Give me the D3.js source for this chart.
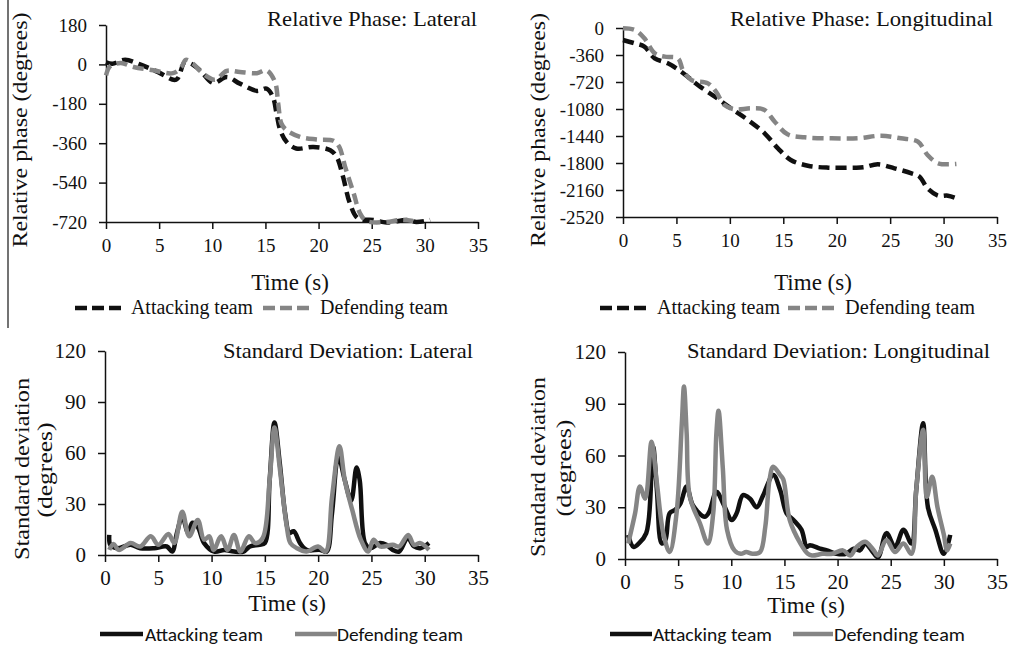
<!DOCTYPE html>
<html>
<head>
<meta charset="utf-8">
<script src="https://d3js.org/d3.v7.min.js"></script>
<style>
  body { margin: 0; background: #fff; }
  svg text { fill: #111; }
  .axis path, .axis line { stroke: #111; stroke-width: 1.5; }
  .axis.top text { font-size: 19px; }
  .axis.bottom text { font-size: 21px; }
</style>
</head>
<body>
<svg width="1015" height="645"></svg>
<script>
// time ticks shared by all four panels
const xTicks = [0, 5, 10, 15, 20, 25, 30, 35];
const latPhaseTicks = [-720, -540, -360, -180, 0, 180];
const lonPhaseTicks = [-2520, -2160, -1800, -1440, -1080, -720, -360, 0];
const sdTicks = [0, 30, 60, 90, 120];

// [time (s), degrees]
const latPhaseAtk = [[0,10],[0.6,3],[1.8,21],[3.2,0],[4.9,-35],[6.6,-70],[7.4,10],[8.0,3],[8.85,-27],[10.1,-85],
  [11.35,-58],[12.6,-88],[14.2,-121],[15.1,-111],[15.7,-149],[16.05,-225],[16.4,-301],[17.0,-354],[17.9,-384],
  [19.5,-377],[21.1,-392],[21.7,-422],[22.3,-513],[22.95,-635],[23.7,-703],[25.15,-711],[26.4,-722],[28.3,-711],
  [29.2,-720],[30.5,-711]];
const latPhaseDef = [[0,-50],[0.4,-8],[1.4,6],[2.6,-12],[4.45,-27],[6.3,-40],[7.1,-12],[7.5,21],[8.2,3],[9.15,-43],
  [10.25,-70],[11.35,-30],[12.6,-35],[14.2,-40],[15.1,-27],[15.9,-80],[16.2,-179],[16.5,-270],[17.0,-301],
  [18.25,-331],[19.8,-343],[21.4,-349],[21.95,-377],[22.5,-468],[23.3,-589],[23.9,-680],[24.5,-715],[26.4,-720],
  [27.65,-711],[28.9,-715]];

const lonPhaseAtk = [[0,-160],[1.1,-204],[2.0,-249],[2.97,-404],[4.2,-471],[5.45,-582],[7.0,-760],[8.6,-916],
  [10.1,-1071],[11.7,-1227],[13.25,-1404],[14.5,-1604],[15.7,-1760],[17.3,-1836],[19.2,-1862],[21.4,-1862],
  [22.5,-1858],[23.85,-1818],[25.4,-1871],[27.0,-1938],[27.75,-1982],[28.5,-2138],[29.5,-2236],[30.4,-2236],
  [31.2,-2271]];
const lonPhaseDef = [[0,-4],[1.1,-27],[2.0,-138],[2.97,-338],[3.9,-382],[5.15,-404],[5.6,-560],[6.4,-693],
  [7.95,-738],[8.7,-849],[9.5,-1027],[10.45,-1084],[12.0,-1071],[13.25,-1093],[14.2,-1249],[15.4,-1418],
  [17.0,-1458],[19.5,-1471],[22.0,-1471],[24.15,-1436],[26.0,-1471],[27.6,-1516],[28.5,-1693],[29.5,-1804],
  [31.2,-1813]];

const latSdAtk = [[0.4,11.8],[0.5,6],[1.1,4],[2.4,6],[3.3,4],[4.6,4],[5.8,5],[6.3,2],[6.75,13],[7.25,22.5],
  [7.8,13],[8.2,19],[8.7,16.6],[9.3,7],[10.25,2],[11.2,3],[12.1,2],[13.0,2],[13.6,5],[14.5,6],[15.0,7],
  [15.45,44],[15.9,78],[16.4,54],[16.9,24.5],[17.3,13],[17.7,14],[18.3,7],[18.9,3],[20.2,3],[20.8,2],
  [21.3,24.5],[21.9,58],[22.5,44],[23.1,32],[23.6,51.5],[23.9,44],[24.4,7],[24.9,4],[25.8,7],[26.4,6],
  [27.0,3],[27.6,2],[28.4,10],[29.0,5],[29.6,4],[30.4,7]];
const latSdDef = [[0.4,3],[0.8,6.5],[1.3,3],[2.4,7],[3.3,5],[4.3,11],[5.0,6],[5.95,12.4],[6.5,7],[7.25,25.5],
  [7.9,11],[8.7,20.6],[9.3,9],[9.8,11],[10.2,3],[10.9,11],[11.5,3],[12.1,11.8],[12.7,2],[13.5,11],[14.1,7],
  [14.8,10],[15.45,44],[15.9,75],[16.4,51],[17.05,17],[17.4,7],[18.0,4],[18.9,2],[20.0,5],[20.7,2],[21.3,34],
  [22.0,64],[22.5,44],[23.2,26.5],[24.0,9],[24.7,2],[25.2,9],[25.8,5],[27.0,6],[27.6,5],[28.45,11.8],
  [29.0,6],[29.6,7],[30.4,3]];

const lonSdAtk = [[0.3,14],[0.8,7],[1.3,9],[2.0,15],[2.5,50],[2.66,65],[3.0,40],[3.45,9],[3.8,11],[4.2,26.5],
  [4.7,28.4],[5.2,32],[5.8,42],[6.4,31],[7.5,24.5],[7.9,27],[8.6,39],[9.25,32],[10.05,22.6],[10.5,26.5],
  [11.1,37],[11.75,35],[12.4,30],[13.0,37],[13.95,48.7],[14.6,40],[15.2,26.5],[15.85,22.6],[16.6,17],
  [17.1,7],[17.4,8],[18.35,6],[19.0,5],[19.9,3],[20.8,3],[21.5,6],[22.1,5],[22.6,9],[23.2,5],[23.8,1],
  [24.6,15],[25.4,7],[26.2,17],[26.95,9],[27.4,40],[28.05,78.7],[28.5,30],[29.2,17],[30.0,3],[30.6,14]];
const lonSdDef = [[0.3,9],[0.95,26.5],[1.4,42],[1.9,35],[2.5,68],[3.0,44],[3.6,15],[4.2,4],[4.85,26.5],
  [5.35,79],[5.55,100],[5.8,73],[6.1,36],[7.05,20.7],[7.8,9],[8.3,26.5],[8.6,73],[8.8,86],[9.2,53],[9.6,17],
  [10.3,5],[10.9,3],[11.4,4],[12.0,3],[12.7,4],[13.2,18.7],[13.6,46],[13.95,53.5],[14.6,48.7],[14.9,46],
  [15.5,22.6],[16.5,9],[17.2,3],[17.6,2],[18.6,3],[19.5,3],[20.5,5],[21.2,2],[21.8,7],[22.6,10],[23.4,5],
  [23.8,2],[24.6,11],[25.4,4],[26.2,9],[26.95,3],[27.4,40],[28.05,75],[28.4,36],[28.9,47.7],[29.4,30],
  [30.0,14],[30.3,5],[30.6,9]];

// pick the first face that is really installed (measure against fallbacks)
function pickFont(list, generic) {
  var c = document.createElement('canvas').getContext('2d');
  var probe = 'Relative phase mmmWWlli 0123456789';
  c.font = '40px monospace'; var bMono = c.measureText(probe).width;
  c.font = '40px sans-serif'; var bSans = c.measureText(probe).width;
  for (var i = 0; i < list.length; i++) {
    c.font = '40px "' + list[i] + '", monospace'; var w1 = c.measureText(probe).width;
    c.font = '40px "' + list[i] + '", sans-serif'; var w2 = c.measureText(probe).width;
    if (w1 !== bMono || w2 !== bSans) return '"' + list[i] + '", ' + generic;
  }
  return generic;
}
const SERIF = pickFont(['Liberation Serif', 'Tinos', 'Times New Roman', 'Nimbus Roman', 'FreeSerif',
  'DejaVu Serif', 'Noto Serif', 'Georgia'], 'serif');
const SANS = pickFont(['Carlito', 'Lato', 'Open Sans', 'Liberation Sans'], 'sans-serif');

const svg = d3.select('svg').style('font-family', SERIF);
const BLACK = '#101010', GRAY = '#858585';

// thin border line at far left of the top-left panel
svg.append('line').attr('x1', 8).attr('x2', 8).attr('y1', 0).attr('y2', 328)
  .attr('stroke', '#444').attr('stroke-width', 1.5);

function drawPanel(p) {
  var x = d3.scaleLinear().domain([0, 35]).range([p.x0, p.x1]);
  var y = d3.scaleLinear().domain(p.yDomain).range([p.yBottom, p.yTop]);
  var g = svg.append('g');
  var cls = p.dashed ? 'axis top' : 'axis bottom';

  g.append('g').attr('class', cls)
    .attr('transform', 'translate(0,' + p.yBottom + ')')
    .call(d3.axisBottom(x).tickValues(xTicks).tickSize(7).tickSizeOuter(0).tickPadding(p.dashed ? 10 : 8))
    .attr('font-family', SERIF).attr('font-size', null);
  g.append('g').attr('class', cls)
    .attr('transform', 'translate(' + p.x0 + ',0)')
    .call(d3.axisLeft(y).tickValues(p.yTicks).tickSize(7).tickSizeOuter(0).tickPadding(12)
      .tickFormat(function(d) { return String(d); }))
    .attr('font-family', SERIF).attr('font-size', null);

  var line = d3.line()
    .x(function(d) { return x(d[0]); })
    .y(function(d) { return y(d[1]); })
    .curve(d3.curveCatmullRom.alpha(0.5));

  [[p.atk, BLACK], [p.def, GRAY]].forEach(function(s) {
    g.append('path')
      .attr('d', line(s[0]))
      .attr('fill', 'none')
      .attr('stroke', s[1])
      .attr('stroke-width', 4.5)
      .attr('stroke-linejoin', 'round')
      .attr('stroke-dasharray', p.dashed ? '11,6' : null);
  });

  // title, top right
  g.append('text').attr('x', p.titleX).attr('y', p.titleY)
    .attr('text-anchor', 'end').style('font-size', '22px')
    .attr('textLength', p.titleLen).attr('lengthAdjust', 'spacingAndGlyphs')
    .text(p.title);

  // y label (one or two rotated lines)
  p.yLabels.forEach(function(l) {
    g.append('text')
      .attr('transform', 'translate(' + l.x + ',' + l.y + ') rotate(-90)')
      .attr('text-anchor', 'middle').style('font-size', '22px')
      .attr('textLength', l.len).attr('lengthAdjust', 'spacingAndGlyphs')
      .text(l.text);
  });

  g.append('text').attr('x', p.timeX).attr('y', p.timeY)
    .attr('text-anchor', 'middle').style('font-size', '23px')
    .text('Time (s)');

  // legend
  p.legend.forEach(function(l, i) {
    g.append('line')
      .attr('x1', l.lx1).attr('x2', l.lx2).attr('y1', p.legLineY).attr('y2', p.legLineY)
      .attr('stroke', i === 0 ? BLACK : GRAY).attr('stroke-width', 4.5)
      .attr('stroke-dasharray', p.dashed ? '12,5' : null);
    g.append('text')
      .attr('x', l.tx).attr('y', p.legTextY)
      .style('font-family', p.dashed ? SERIF : SANS)
      .style('font-size', p.dashed ? '20px' : '18px')
      .attr('textLength', l.len).attr('lengthAdjust', 'spacingAndGlyphs')
      .text(l.text);
  });
}

drawPanel({
  x0: 106, x1: 478, yBottom: 222, yTop: 25, yDomain: [-720, 180], yTicks: latPhaseTicks,
  atk: latPhaseAtk, def: latPhaseDef, dashed: true,
  title: 'Relative Phase: Lateral', titleX: 477, titleY: 26, titleLen: 210,
  yLabels: [{ text: 'Relative phase (degrees)', x: 27, y: 130, len: 235 }],
  timeX: 290, timeY: 290,
  legLineY: 308, legTextY: 314,
  legend: [
    { text: 'Attacking team', lx1: 75, lx2: 122, tx: 131, len: 122 },
    { text: 'Defending team', lx1: 263, lx2: 310, tx: 320, len: 128 }
  ]
});

drawPanel({
  x0: 623, x1: 997, yBottom: 217, yTop: 28, yDomain: [-2520, 0], yTicks: lonPhaseTicks,
  atk: lonPhaseAtk, def: lonPhaseDef, dashed: true,
  title: 'Relative Phase: Longitudinal', titleX: 993, titleY: 26, titleLen: 263,
  yLabels: [{ text: 'Relative phase (degrees)', x: 545, y: 130, len: 234 }],
  timeX: 813, timeY: 290,
  legLineY: 308, legTextY: 314,
  legend: [
    { text: 'Attacking team', lx1: 600, lx2: 647, tx: 657, len: 123 },
    { text: 'Defending team', lx1: 788, lx2: 837, tx: 845, len: 130 }
  ]
});

drawPanel({
  x0: 105, x1: 478, yBottom: 555, yTop: 351, yDomain: [0, 120], yTicks: sdTicks,
  atk: latSdAtk, def: latSdDef, dashed: false,
  title: 'Standard Deviation: Lateral', titleX: 473, titleY: 358, titleLen: 250,
  yLabels: [
    { text: 'Standard deviation', x: 29, y: 469, len: 182 },
    { text: '(degrees)', x: 52, y: 470, len: 95 }
  ],
  timeX: 287, timeY: 611,
  legLineY: 634, legTextY: 641,
  legend: [
    { text: 'Attacking team', lx1: 100, lx2: 143, tx: 145, len: 118 },
    { text: 'Defending team', lx1: 295, lx2: 337, tx: 337, len: 126 }
  ]
});

drawPanel({
  x0: 625, x1: 997, yBottom: 559, yTop: 352, yDomain: [0, 120], yTicks: sdTicks,
  atk: lonSdAtk, def: lonSdDef, dashed: false,
  title: 'Standard Deviation: Longitudinal', titleX: 990, titleY: 358, titleLen: 303,
  yLabels: [
    { text: 'Standard deviation', x: 545, y: 467, len: 180 },
    { text: '(degrees)', x: 571, y: 468, len: 97 }
  ],
  timeX: 806, timeY: 613,
  legLineY: 634, legTextY: 641,
  legend: [
    { text: 'Attacking team', lx1: 610, lx2: 652, tx: 653, len: 119 },
    { text: 'Defending team', lx1: 793, lx2: 833, tx: 834, len: 131 }
  ]
});
</script>
</body>
</html>
